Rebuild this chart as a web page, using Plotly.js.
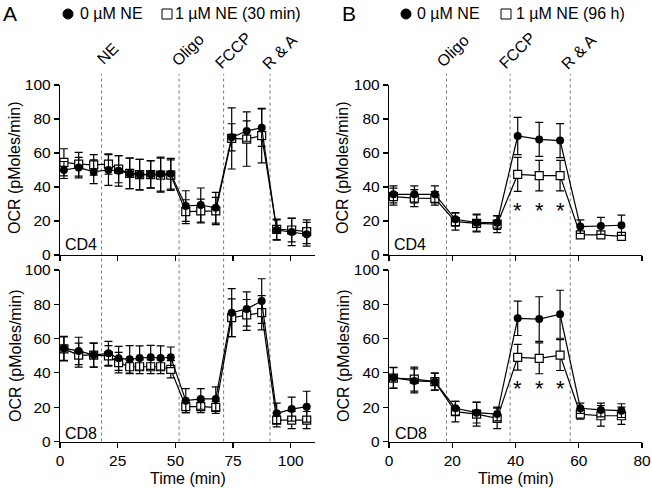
<!DOCTYPE html>
<html>
<head>
<meta charset="utf-8">
<script src="https://cdn.plot.ly/plotly-3.0.1.min.js"></script>
<style>html,body{margin:0;padding:0;background:#fff}#chart{width:652px;height:488px}</style>
</head>
<body>
<div id="chart"></div>
<script>
// ---------- DATA ----------
// Panel A (30 min NE)
const timeA = [1.7, 8.1, 14.6, 21, 25.4, 30.2, 34.5, 39.3, 43.6, 48, 54.5, 61, 67.5, 74.4, 80.9, 87.4, 93.9, 100.4, 106.9];
const cd4A_ctrl     = [50, 51.4, 49, 50, 49.5, 48, 47.3, 47.5, 47.6, 47.8, 28.8, 29.4, 27.8, 69.2, 72.9, 74.9, 14.7, 13.5, 12.2];
const cd4A_ctrl_err = [5, 6, 7, 9, 9, 9, 9, 8, 10, 9, 9, 10, 9, 8, 6, 11, 6, 8, 7];
const cd4A_ne       = [54.5, 53.4, 53, 53.5, 50.5, 48, 47.3, 47.3, 47, 47, 25.5, 25.9, 25.9, 68.6, 68.2, 70.2, 15.1, 14.7, 13.7];
const cd4A_ne_err   = [8, 7, 6, 6, 8, 9, 9, 8, 10, 9, 7, 7, 8, 18, 16, 16, 6, 7, 7];
const cd8A_ctrl     = [54.3, 52.8, 50.4, 51.4, 48.5, 47.9, 48.7, 49.1, 48.7, 49.1, 23.8, 24.8, 24.8, 75.1, 77.3, 81.9, 16.4, 18.9, 20.3];
const cd8A_ctrl_err = [7, 8, 7, 7, 7, 8, 7, 7, 7, 6, 7, 6, 7, 14, 10, 13, 6, 7, 9];
const cd8A_ne       = [54, 50.4, 50.4, 49.9, 46, 43.6, 43.6, 43.6, 43.6, 42.1, 20.3, 20.3, 19.9, 72.2, 73.8, 75.1, 12.5, 12.5, 12.5];
const cd8A_ne_err   = [7, 7, 7, 6, 6, 4, 4, 4, 4, 5, 3.5, 3.5, 3.5, 11, 9, 10, 4, 5, 5];
const eventsA = [18, 51.6, 70.9, 91];
const eventLabelsA = ["NE", "Oligo", "FCCP", "R & A"];

// Panel B (96 h NE)
const timeB = [1.4, 8, 14.5, 21, 27.7, 34.2, 40.7, 47.5, 54.1, 60.5, 67, 73.5];
const cd4B_ctrl     = [35.7, 35.7, 35.7, 21, 19, 19, 70, 68, 67.3, 16.7, 17.1, 17.5];
const cd4B_ctrl_err = [5, 5, 5, 4, 5, 4, 11, 10, 10, 4, 5, 6];
const cd4B_ne       = [34.3, 33.5, 33.3, 19.6, 18.6, 18.2, 47.4, 46.7, 46.7, 11.8, 11.8, 11];
const cd4B_ne_err   = [5, 5, 4, 5, 5, 5, 10, 9, 9, 2, 2, 2];
const cd8B_ctrl     = [37.2, 35.3, 34.9, 19.4, 16.8, 16, 71.8, 71.4, 74.2, 19.4, 18.4, 18];
const cd8B_ctrl_err = [6, 7, 5, 4, 6, 4, 10, 13, 14, 3, 4, 4];
const cd8B_ne       = [37, 36.4, 34.9, 17.4, 16, 13.5, 49.1, 48.5, 50.4, 16, 15, 15];
const cd8B_ne_err   = [6, 7, 5, 6, 7, 6, 7.5, 9, 9, 3, 6, 5];
const eventsB = [18.2, 38.3, 57.3];
const eventLabelsB = ["Oligo", "FCCP", "R & A"];
const sigTimesB = [40.7, 47.5, 54.1];

const legendA = ["0 µM NE", "1 µM NE (30 min)"];
const legendB = ["0 µM NE", "1 µM NE (96 h)"];
const yTicks = [0, 20, 40, 60, 80, 100];
const xTicksA = [0, 25, 50, 75, 100];
const xTicksB = [0, 20, 40, 60, 80];

// ---------- HELPERS ----------
const W = 652, H = 488;
const px = v => v / W;
const py = v => 1 - v / H;
const FONT = "Liberation Sans, Arial, sans-serif";

function series(x, y, err, xa, ya, filled) {
  return {
    type: "scatter", mode: "lines+markers", x: x, y: y, xaxis: xa, yaxis: ya,
    showlegend: false, cliponaxis: false,
    line: {color: "black", width: 1.2},
    marker: filled
      ? {symbol: "circle", size: 8, color: "black", line: {color: "black", width: 0}}
      : {symbol: "square", size: 8, color: "white", line: {color: "black", width: 1.2}},
    error_y: {type: "data", array: err, visible: true, color: "black", thickness: 1.2, width: 4}
  };
}

const data = [
  series(timeA, cd4A_ne, cd4A_ne_err, "x", "y", false),
  series(timeA, cd4A_ctrl, cd4A_ctrl_err, "x", "y", true),
  series(timeA, cd8A_ne, cd8A_ne_err, "x2", "y2", false),
  series(timeA, cd8A_ctrl, cd8A_ctrl_err, "x2", "y2", true),
  series(timeB, cd4B_ne, cd4B_ne_err, "x3", "y3", false),
  series(timeB, cd4B_ctrl, cd4B_ctrl_err, "x3", "y3", true),
  series(timeB, cd8B_ne, cd8B_ne_err, "x4", "y4", false),
  series(timeB, cd8B_ctrl, cd8B_ctrl_err, "x4", "y4", true)
];

const topDom = [py(255), py(85)];
const botDom = [py(441.5), py(270)];
const domA = [px(60), px(315)];
const domB = [px(389), px(642)];
const TICKFONT = {family: FONT, size: 15.5, color: "black"};

function xax(dom, range, ticks, anchor, labels) {
  return {domain: dom, range: range, anchor: anchor, tickvals: ticks, showticklabels: labels,
    ticks: "outside", ticklen: 5, tickwidth: 1.2, tickcolor: "black",
    showline: true, linecolor: "black", linewidth: 1.2, showgrid: false, zeroline: false,
    tickfont: TICKFONT, fixedrange: true};
}
function yax(dom, anchor) {
  return {domain: dom, range: [0, 100], anchor: anchor, tickvals: yTicks,
    ticks: "outside", ticklen: 5, tickwidth: 1.2, tickcolor: "black",
    showline: true, linecolor: "black", linewidth: 1.2, showgrid: false, zeroline: false,
    tickfont: TICKFONT, fixedrange: true};
}

const shapes = [];
eventsA.forEach(t => shapes.push({type: "line", xref: "x", yref: "paper", x0: t, x1: t,
  y0: py(441.5), y1: py(74), line: {color: "#777", width: 1, dash: "dot"}, layer: "below"}));
eventsB.forEach(t => shapes.push({type: "line", xref: "x3", yref: "paper", x0: t, x1: t,
  y0: py(441.5), y1: py(74), line: {color: "#777", width: 1, dash: "dot"}, layer: "below"}));
// legend symbols
shapes.push({type: "circle", xref: "paper", yref: "paper", x0: px(63), x1: px(73), y0: py(19), y1: py(9), fillcolor: "black", line: {color: "black", width: 1}});
shapes.push({type: "rect", xref: "paper", yref: "paper", x0: px(162), x1: px(172), y0: py(19), y1: py(9), fillcolor: "white", line: {color: "black", width: 1}});
shapes.push({type: "circle", xref: "paper", yref: "paper", x0: px(401), x1: px(411), y0: py(19), y1: py(9), fillcolor: "black", line: {color: "black", width: 1}});
shapes.push({type: "rect", xref: "paper", yref: "paper", x0: px(501), x1: px(511), y0: py(19), y1: py(9), fillcolor: "white", line: {color: "black", width: 1}});

const f16 = {family: FONT, size: 16, color: "black"};
const ann = [];
function txt(text, x, y, opts) {
  ann.push(Object.assign({text: text, xref: "paper", yref: "paper", x: px(x), y: py(y),
    showarrow: false, xanchor: "center", yanchor: "middle", font: f16}, opts || {}));
}
txt("A", 10, 13, {font: {family: FONT, size: 21, color: "black"}});
txt("B", 348.5, 13, {font: {family: FONT, size: 21, color: "black"}});
txt(legendA[0], 78, 14, {xanchor: "left"});
txt(legendA[1], 173, 14, {xanchor: "left"});
txt(legendB[0], 415, 14, {xanchor: "left"});
txt(legendB[1], 514, 14, {xanchor: "left"});

const evPosA = [[108, 54], [187, 50], [233, 50], [279, 52]];
const evPosB = [[452, 51], [517, 50], [578, 52]];
const evFont = {family: FONT, size: 16, color: "black"};
eventLabelsA.forEach((l, i) => txt(l, evPosA[i][0], evPosA[i][1], {textangle: -45, font: evFont}));
eventLabelsB.forEach((l, i) => txt(l, evPosB[i][0], evPosB[i][1], {textangle: -45, font: evFont}));

txt("CD4", 63, 244, {xanchor: "left"});
txt("CD8", 63, 433, {xanchor: "left"});
txt("CD4", 392, 244, {xanchor: "left"});
txt("CD8", 393, 433, {xanchor: "left"});

txt("OCR (pMoles/min)", 15, 168, {textangle: -90});
txt("OCR (pMoles/min)", 15, 356, {textangle: -90});
txt("OCR (pMoles/min)", 343, 168, {textangle: -90});
txt("OCR (pMoles/min)", 343, 356, {textangle: -90});
txt("Time (min)", 187.5, 478);
txt("Time (min)", 515.5, 478);

sigTimesB.forEach(t => {
  ann.push({text: "*", xref: "x3", yref: "y3", x: t, y: 26, showarrow: false, font: {family: FONT, size: 22, color: "black"}});
  ann.push({text: "*", xref: "x4", yref: "y4", x: t, y: 31, showarrow: false, font: {family: FONT, size: 22, color: "black"}});
});

const layout = {
  width: W, height: H, margin: {l: 0, r: 0, t: 0, b: 0},
  paper_bgcolor: "white", plot_bgcolor: "white", showlegend: false,
  font: f16,
  xaxis: xax(domA, [0, 110.5], xTicksA, "y", false),
  yaxis: yax(topDom, "x"),
  xaxis2: xax(domA, [0, 110.5], xTicksA, "y2", true),
  yaxis2: yax(botDom, "x2"),
  xaxis3: xax(domB, [0, 80], xTicksB, "y3", false),
  yaxis3: yax(topDom, "x3"),
  xaxis4: xax(domB, [0, 80], xTicksB, "y4", true),
  yaxis4: yax(botDom, "x4"),
  shapes: shapes, annotations: ann
};

Plotly.newPlot("chart", data, layout, {displayModeBar: false, staticPlot: true});
</script>
</body>
</html>
